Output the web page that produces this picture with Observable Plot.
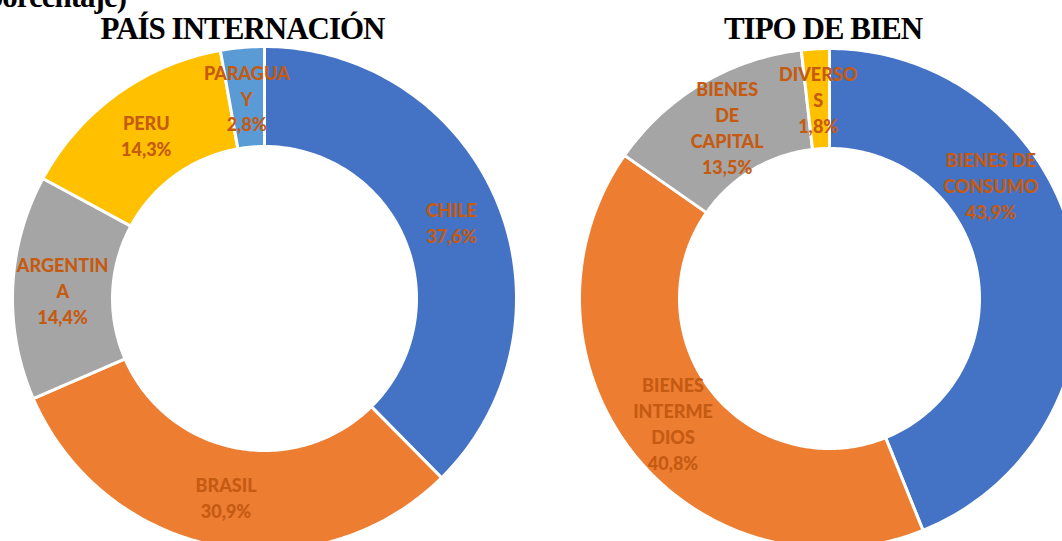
<!DOCTYPE html>
<html><head><meta charset="utf-8">
<script src="https://cdn.jsdelivr.net/npm/d3@7"></script>
<script src="https://cdn.jsdelivr.net/npm/@observablehq/plot@0.6"></script>
<style>
body{margin:0;background:#fff;overflow:hidden}
#wrap{position:relative;width:1062px;height:541px;overflow:hidden;background:#fff}
.title{position:absolute;font-family:"Liberation Serif","Times New Roman",serif;font-weight:bold;font-size:31px;line-height:31px;letter-spacing:-1px;color:#000;white-space:nowrap}
</style></head><body>
<div id="wrap"></div>
<script>
// ---- data ----
const paisCategorias = ["CHILE","BRASIL","ARGENTINA","PERU","PARAGUAY"];
const paisEtiquetas = ["CHILE","BRASIL","ARGENTIN\nA","PERU","PARAGUA\nY"];
const paisValores = [37.6, 30.9, 14.4, 14.3, 2.8];
const bienCategorias = ["BIENES DE CONSUMO","BIENES INTERMEDIOS","BIENES DE CAPITAL","DIVERSOS"];
const bienEtiquetas = ["BIENES DE\nCONSUMO","BIENES\nINTERME\nDIOS","BIENES\nDE\nCAPITAL","DIVERSO\nS"];
const bienValores = [43.9, 40.8, 13.5, 1.8];
const paisColores = ["#4472C4","#ED7D31","#A5A5A5","#FFC000","#5B9BD5"];
const bienColores = ["#4472C4","#ED7D31","#A5A5A5","#FFC000"];
const titulos = ["PAÍS INTERNACIÓN","TIPO DE BIEN"];
const subtitulo = "(porcentaje)";

// ---- layout ----
const W = 1062, H = 541;
const donas = [
  {cats: paisCategorias, labs: paisEtiquetas, vals: paisValores, cx: 264, cy: 298, r0: 152, r1: 252},
  {cats: bienCategorias, labs: bienEtiquetas, vals: bienValores, cx: 829, cy: 298, r0: 150, r1: 250}
];
const ajusteEtiqueta = {"BIENES DE CONSUMO": [-35, -76]};
const fmt = v => v.toFixed(1).replace(".", ",") + "%";

const puntos = [];
const etiquetas = [];
donas.forEach((d, di) => {
  const arcs = d3.pie().sort(null).value(v => v)(d.vals);
  arcs.forEach((a, i) => {
    const key = di + "-" + i;
    const cat = d.cats[i];
    const n = Math.max(2, Math.ceil((a.endAngle - a.startAngle) / (Math.PI / 180)));
    const pts = [];
    for (let k = 0; k <= n; k++) {
      const t = a.startAngle + (a.endAngle - a.startAngle) * k / n;
      pts.push({x: d.cx + d.r1 * Math.sin(t), y: d.cy - d.r1 * Math.cos(t)});
    }
    for (let k = n; k >= 0; k--) {
      const t = a.startAngle + (a.endAngle - a.startAngle) * k / n;
      pts.push({x: d.cx + d.r0 * Math.sin(t), y: d.cy - d.r0 * Math.cos(t)});
    }
    pts.push(pts[0]);
    pts.forEach(p => puntos.push({...p, key, cat}));
    const mid = (a.startAngle + a.endAngle) / 2;
    const rm = (d.r0 + d.r1) / 2;
    const adj = ajusteEtiqueta[cat] || [0, 0];
    etiquetas.push({
      x: d.cx + rm * Math.sin(mid) + adj[0],
      y: d.cy - rm * Math.cos(mid) + adj[1],
      text: d.labs[i] + "\n" + fmt(d.vals[i])
    });
  });
});

const chart = Plot.plot({
  width: W, height: H, margin: 0,
  x: {domain: [0, W], range: [0, W], axis: null},
  y: {domain: [0, H], range: [0, H], axis: null},
  color: {domain: [...paisCategorias, ...bienCategorias], range: [...paisColores, ...bienColores]},
  style: {background: "white"},
  marks: [
    Plot.line(puntos, {x: "x", y: "y", z: "key", fill: "cat", stroke: "white", strokeWidth: 3, strokeLinejoin: "round"}),
    Plot.text(etiquetas, {x: "x", y: "y", text: "text", fill: "#C55A11", fontSize: 18, fontWeight: 900, fontFamily: "Lato, 'Open Sans', sans-serif", lineHeight: 1.44})
  ]
});
const wrap = document.getElementById("wrap");
wrap.appendChild(chart);

function addTitle(text, centerX, top, rightX) {
  const el = document.createElement("div");
  el.className = "title";
  el.textContent = text;
  wrap.appendChild(el);
  const w = el.getBoundingClientRect().width;
  el.style.left = (rightX != null ? rightX - w : centerX - w / 2) + "px";
  el.style.top = top + "px";
}
addTitle(titulos[0], 242.5, 13);
addTitle(titulos[1], 823, 13);
addTitle(subtitulo, null, -19, 126);
</script>
</body></html>
